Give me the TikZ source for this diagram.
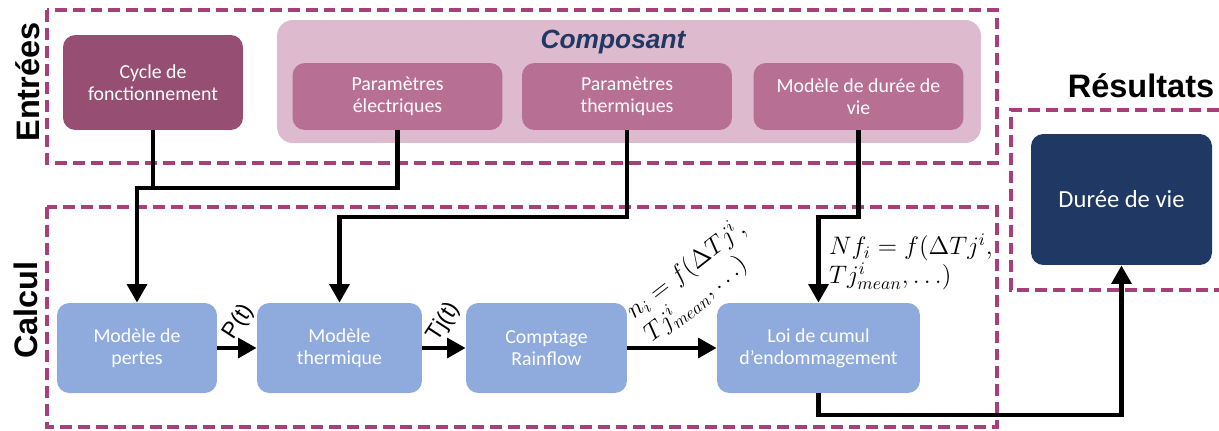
\documentclass[tikz,border=0pt]{standalone}
\usepackage{fontspec}
\setmainfont{Carlito}
\newfontfamily\arialfont{Liberation Sans}
\usetikzlibrary{arrows.meta}

\definecolor{dashpink}{RGB}{168,62,122}
\definecolor{cyclepurple}{RGB}{150,79,114}
\definecolor{compbg}{RGB}{221,186,206}
\definecolor{parampink}{RGB}{184,111,148}
\definecolor{calcblue}{RGB}{143,170,220}
\definecolor{navy}{RGB}{32,56,100}

\begin{document}
\begin{tikzpicture}[x=0.02cm,y=-0.02cm,
    zone/.style={draw=dashpink,line width=2pt,dash pattern=on 6.8pt off 3.4pt},
    block/.style={rounded corners=7pt,align=center,text=white,inner sep=0pt,
      font=\fontsize{11.3}{12.6}\selectfont},
    inbox/.style={block,fill=parampink,minimum width=4.2cm,minimum height=1.34cm},
    calcbox/.style={block,fill=calcblue,minimum height=1.8cm},
    title/.style={font=\arialfont\bfseries\fontsize{18.5}{20}\selectfont},
    wire/.style={line width=2.8pt},
    flow/.style={wire,-{Triangle[length=10.5pt,width=11pt]}},
    sig/.style={font=\arialfont\fontsize{13}{14}\selectfont,rotate=57},
    law/.style={align=left,font=\fontsize{14}{16.5}\selectfont}]
    \useasboundingbox (0,0) rectangle (1219,430);

    % Draw the dashed zones
    \draw[zone] (47,10) rectangle (997,163);
    \draw[zone] (47,207) rectangle (997,427);
    \draw[zone] (1219,110) -- (1011,110) -- (1011,290) -- (1219,290);

    % Zone titles
    \node[title,rotate=90] (entrees) at (28,82) {Entrées};
    \node[title,rotate=90] (calcul) at (26,310) {Calcul};
    \node[title] (resultats) at (1141,86) {Résultats};

    % Inputs
    \node[block,fill=cyclepurple,minimum width=3.6cm,minimum height=1.9cm] (cycle) at (153,82.5) {Cycle de\\fonctionnement};
    \node[rounded corners=9pt,fill=compbg,minimum width=14.08cm,minimum height=2.46cm] (comp) at (629,81.5) {};
    \node[font=\arialfont\bfseries\itshape\fontsize{15}{16}\selectfont,text=navy] (comptitle) at (613,42) {Composant};
    \node[inbox] (elec) at (397.5,96.5) {Paramètres\\électriques};
    \node[inbox] (therm) at (627,96.5) {Paramètres\\thermiques};
    \node[inbox] (dmodel) at (858.5,96.5) {Modèle de durée de\\vie};

    % Calculation chain
    \node[calcbox,minimum width=3.2cm] (pertes) at (137,348) {Modèle de\\pertes};
    \node[calcbox,minimum width=3.3cm] (thermique) at (339.5,348) {Modèle\\thermique};
    \node[calcbox,minimum width=3.22cm] (rainflow) at (546.5,348) {Comptage\\Rainflow};
    \node[calcbox,minimum width=4.06cm] (loi) at (818.5,348) {Loi de cumul\\d’endommagement};

    % Result
    \node[block,fill=navy,minimum width=3.62cm,minimum height=2.62cm,font=\fontsize{14}{16}\selectfont] (vie) at (1121.5,199.5) {Durée de vie};

    % Bend points of the wires
    \coordinate (bendA) at (137,188);
    \coordinate (bendB) at (339.5,217);
    \coordinate (bendC) at (818.5,217);
    \coordinate (bendD) at (1121.5,415);

    % Draw the wires
    \draw[wire] (cycle.south) -- (cycle.south |- bendA);
    \draw[flow] (elec.south) |- (bendA) -- (pertes.north);
    \draw[flow] (therm.south) |- (bendB) -- (thermique.north);
    \draw[flow] (dmodel.south) |- (bendC) -- (loi.north);
    \draw[flow] (loi.south) |- (bendD) -- (vie.south);
    \draw[flow] (pertes.east) -- (thermique.west);
    \draw[flow] (thermique.east) -- (rainflow.west);
    \draw[flow] (rainflow.east) -- (loi.west);

    % Signal labels
    \node[sig] (pt) at (239,322) {P(t)};
    \node[sig] (tjt) at (444,322) {Tj(t)};
    \node[law,rotate=38] (ni) at (695,281) {$n_i = f(\Delta Tj^i,$\\$Tj^i_{mean}, \ldots)$};
    \node[law] (nf) at (911,262) {$Nf_i = f(\Delta Tj^i,$\\$Tj^i_{mean}, \ldots)$};
\end{tikzpicture}
\end{document}
